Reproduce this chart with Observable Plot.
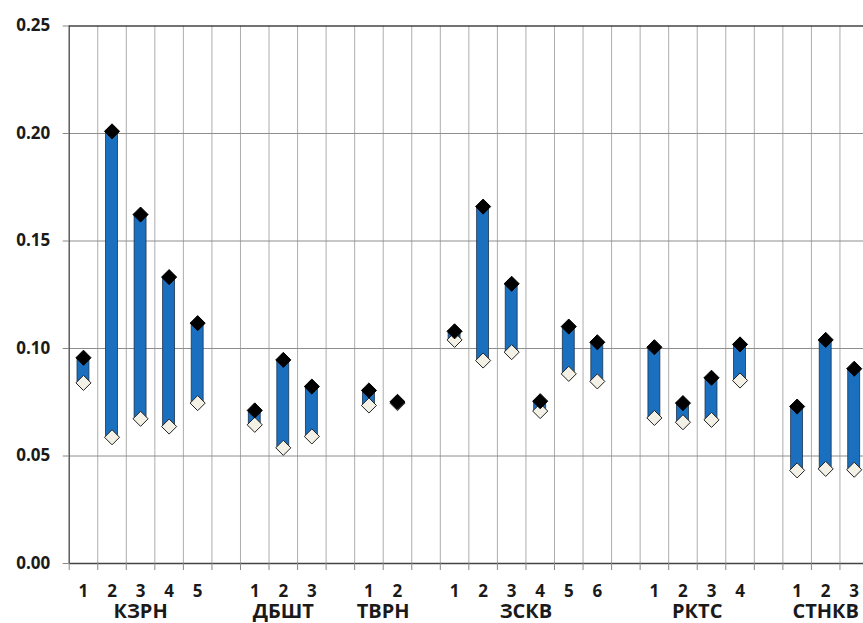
<!DOCTYPE html>
<html>
<head>
<meta charset="utf-8">
<script src="https://cdn.jsdelivr.net/npm/d3@7"></script>
<script src="https://cdn.jsdelivr.net/npm/@observablehq/plot@0.6"></script>
<style>
  html, body { margin: 0; padding: 0; background: #fff; }
  #chart { width: 863px; height: 623px; overflow: hidden; }
</style>
</head>
<body>
<div id="chart"></div>
<script>
const groups = ["КЗРН", "ДБШТ", "ТВРН", "ЗСКВ", "РКТС", "СТНКВ"];
const groupSizes = [5, 3, 2, 6, 4, 3];
const highValues = [
  0.0957, 0.2010, 0.1623, 0.1332, 0.1118,
  0.0712, 0.0947, 0.0823,
  0.0805, 0.0752,
  0.1080, 0.1660, 0.1301, 0.0755, 0.1102, 0.1029,
  0.1006, 0.0746, 0.0864, 0.1019,
  0.0730, 0.1040, 0.0906
];
const lowValues = [
  0.0840, 0.0587, 0.0673, 0.0637, 0.0746,
  0.0645, 0.0538, 0.0591,
  0.0735, 0.0746,
  0.1040, 0.0944, 0.0983, 0.0709, 0.0882, 0.0847,
  0.0677, 0.0657, 0.0668, 0.0851,
  0.0433, 0.0440, 0.0436
];
const yTicks = [0, 0.05, 0.10, 0.15, 0.20, 0.25];

// Build slot layout: each group's members, with one empty slot between groups
const rows = [];
const groupCenters = [];
let slot = 0, k = 0;
groups.forEach((g, gi) => {
  const start = slot;
  for (let i = 1; i <= groupSizes[gi]; i++) {
    rows.push({s: slot, c: slot + 0.5, n: i, group: g, high: highValues[k], low: lowValues[k]});
    slot++; k++;
  }
  groupCenters.push({c: (start + slot) / 2, name: g});
  slot++;
});
const nSlots = slot - 1;
const boundaries = d3.range(0, nSlots + 1);
const numberAt = new Map(rows.map(d => [d.c, String(d.n)]));
const nameAt = new Map(groupCenters.map(d => [d.c, d.name]));

const chart = Plot.plot({
  width: 863,
  height: 623,
  marginLeft: 68.7,
  marginRight: -5,
  marginTop: 25.5,
  marginBottom: 60,
  style: {fontFamily: "'Open Sans', sans-serif", fontWeight: "bold", color: "#1a1a1a", background: "#fff"},
  x: {domain: [0, nSlots], range: [68.7, 868]},
  y: {domain: [0, 0.25], range: [563, 25.5]},
  marks: [
    Plot.gridX(boundaries.slice(1), {stroke: "#adadad", strokeOpacity: 1, strokeWidth: 1}),
    Plot.gridY(yTicks.slice(1, 5), {stroke: "#8e8e8e", strokeOpacity: 1, strokeWidth: 1}),
    Plot.ruleY([0.25], {stroke: "#444", strokeWidth: 1.3}),
    Plot.ruleY([0], {stroke: "#444", strokeWidth: 1.3}),
    Plot.ruleX([0], {stroke: "#444", strokeWidth: 1.3}),
    Plot.axisY(yTicks, {tickFormat: d3.format(".2f"), tickSize: 6, tickPadding: 13, fontSize: 17, fontWeight: "bold", stroke: "#888"}),
    Plot.axisX(boundaries, {tickSize: 7, tickFormat: () => "", stroke: "#888"}),
    Plot.axisX(rows.map(d => d.c), {tickFormat: d => numberAt.get(d), tickSize: 0, tickPadding: 21, fontSize: 17, fontWeight: "bold"}),
    Plot.axisX(groupCenters.map(d => d.c), {tickFormat: d => nameAt.get(d), tickSize: 0, tickPadding: 40, fontSize: 20, fontWeight: "bold"}),
    Plot.rect(rows, {x1: "s", x2: d => d.s + 1, y1: "low", y2: "high", insetLeft: 8.3, insetRight: 8.3, fill: "#1b6fbf", stroke: "#1d3550", strokeWidth: 0.8}),
    Plot.dot(rows, {x: "c", y: "low", symbol: "diamond2", r: 6.8, fill: "#f3f0e6", stroke: "#222", strokeWidth: 1}),
    Plot.dot(rows, {x: "c", y: "high", symbol: "diamond2", r: 6.8, fill: "#000", stroke: "#000", strokeWidth: 1})
  ]
});
document.getElementById("chart").appendChild(chart);
</script>
</body>
</html>
